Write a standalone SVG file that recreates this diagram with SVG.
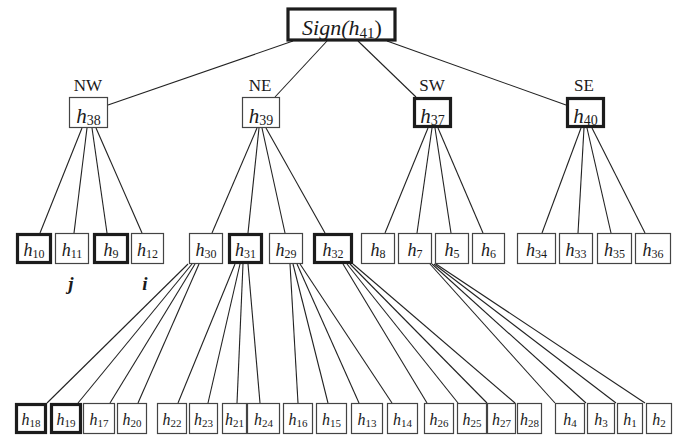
<svg xmlns="http://www.w3.org/2000/svg" width="684" height="439" viewBox="0 0 684 439">
  <style>
    .thin { fill: #fff; stroke: #444; stroke-width: 1.2; }
    .thick { fill: #fff; stroke: #1c1c1c; stroke-width: 3.2; }
    .edge { stroke: #222; stroke-width: 1.1; fill: none; }
    text { font-family: "Liberation Serif", "Times New Roman", serif; fill: #1a1a1a; text-anchor: middle; }
    .it { font-style: italic; }
    .l2 { font-size: 21px; }
    .l2 .s { font-size: 14px; }
    .l3 { font-size: 18px; }
    .l3 .s { font-size: 12px; }
    .l4 { font-size: 16px; }
    .l4 .s { font-size: 11px; }
    .dir { font-size: 17px; }
    .mark { font-size: 19px; font-weight: bold; font-style: italic; }
  </style>

  <!-- connectors -->
  <g id="connectors" class="edge">
    <!-- root to quadrants -->
    <line x1="293" y1="41" x2="108" y2="105"/>
    <line x1="327" y1="41" x2="275" y2="97"/>
    <line x1="358" y1="41" x2="416" y2="97"/>
    <line x1="387" y1="41" x2="566" y2="105"/>
    <!-- h38 -->
    <line x1="82" y1="128" x2="40" y2="233"/>
    <line x1="87" y1="128" x2="74" y2="233"/>
    <line x1="92" y1="128" x2="107" y2="233"/>
    <line x1="96" y1="128" x2="142" y2="233"/>
    <!-- h39 -->
    <line x1="257" y1="128" x2="212" y2="233"/>
    <line x1="259" y1="128" x2="248" y2="233"/>
    <line x1="262" y1="128" x2="285" y2="233"/>
    <line x1="266" y1="128" x2="325" y2="233"/>
    <!-- h37 -->
    <line x1="428" y1="128" x2="385" y2="233"/>
    <line x1="432" y1="128" x2="417" y2="233"/>
    <line x1="435" y1="128" x2="451" y2="233"/>
    <line x1="438" y1="128" x2="483" y2="233"/>
    <!-- h40 -->
    <line x1="581" y1="128" x2="542" y2="233"/>
    <line x1="584" y1="128" x2="578" y2="233"/>
    <line x1="587" y1="128" x2="611" y2="233"/>
    <line x1="592" y1="128" x2="645" y2="233"/>
    <!-- h30 -->
    <line x1="188" y1="264" x2="47" y2="403"/>
    <line x1="192" y1="264" x2="78" y2="403"/>
    <line x1="195" y1="264" x2="110" y2="403"/>
    <line x1="199" y1="264" x2="138" y2="403"/>
    <!-- h31 -->
    <line x1="235" y1="264" x2="178" y2="403"/>
    <line x1="240" y1="264" x2="208" y2="403"/>
    <line x1="243" y1="264" x2="237" y2="403"/>
    <line x1="248" y1="264" x2="260" y2="403"/>
    <!-- h29 -->
    <line x1="290" y1="264" x2="298" y2="403"/>
    <line x1="293" y1="264" x2="328" y2="403"/>
    <line x1="297" y1="264" x2="359" y2="403"/>
    <line x1="300" y1="264" x2="392" y2="403"/>
    <!-- h32 -->
    <line x1="343" y1="264" x2="427" y2="403"/>
    <line x1="347" y1="264" x2="458" y2="403"/>
    <line x1="350" y1="264" x2="487" y2="403"/>
    <line x1="353" y1="264" x2="515" y2="403"/>
    <!-- h7 -->
    <line x1="430" y1="264" x2="555" y2="403"/>
    <line x1="432" y1="264" x2="586" y2="403"/>
    <line x1="434" y1="264" x2="616" y2="403"/>
    <line x1="436" y1="264" x2="645" y2="403"/>
  </g>

  <!-- root -->
  <g id="n41">
    <rect class="thick" x="288" y="9" width="107" height="31" stroke-width="4"/>
    <text x="342" y="35" font-size="22"><tspan class="it">Sign(h</tspan><tspan font-size="15" dy="3">41</tspan><tspan dy="-3">)</tspan></text>
  </g>

  <!-- quadrant nodes -->
  <g id="n38">
    <text class="dir" x="88" y="91">NW</text>
    <rect class="thin" x="69.5" y="97.5" width="38" height="30"/>
    <text class="l2" x="88.5" y="123"><tspan class="it">h</tspan><tspan class="s" dy="2">38</tspan></text>
  </g>
  <g id="n39">
    <text class="dir" x="260" y="91">NE</text>
    <rect class="thin" x="242.5" y="97.5" width="37" height="30"/>
    <text class="l2" x="261" y="123"><tspan class="it">h</tspan><tspan class="s" dy="2">39</tspan></text>
  </g>
  <g id="n37">
    <text class="dir" x="432" y="91">SW</text>
    <rect class="thick" x="414.5" y="98.5" width="36" height="28"/>
    <text class="l2" x="432.5" y="123"><tspan class="it">h</tspan><tspan class="s" dy="2">37</tspan></text>
  </g>
  <g id="n40">
    <text class="dir" x="584" y="91">SE</text>
    <rect class="thick" x="567.5" y="98.5" width="36" height="28"/>
    <text class="l2" x="585.5" y="123"><tspan class="it">h</tspan><tspan class="s" dy="2">40</tspan></text>
  </g>

  <!-- third level -->
  <g id="n10"><rect class="thick" x="17.5" y="234.5" width="33" height="28"/>
    <text class="l3" x="34" y="256"><tspan class="it">h</tspan><tspan class="s" dy="2">10</tspan></text></g>
  <g id="n11"><rect class="thin" x="55.5" y="233.5" width="33" height="30"/>
    <text class="l3" x="72" y="256"><tspan class="it">h</tspan><tspan class="s" dy="2">11</tspan></text></g>
  <g id="n9"><rect class="thick" x="94.5" y="234.5" width="33" height="28"/>
    <text class="l3" x="111" y="256"><tspan class="it">h</tspan><tspan class="s" dy="2">9</tspan></text></g>
  <g id="n12"><rect class="thin" x="131.5" y="233.5" width="32" height="30"/>
    <text class="l3" x="147.5" y="256"><tspan class="it">h</tspan><tspan class="s" dy="2">12</tspan></text></g>
  <g id="n30"><rect class="thin" x="189.5" y="233.5" width="33" height="30"/>
    <text class="l3" x="206" y="256"><tspan class="it">h</tspan><tspan class="s" dy="2">30</tspan></text></g>
  <g id="n31"><rect class="thick" x="229.5" y="234.5" width="32" height="28"/>
    <text class="l3" x="245.5" y="256"><tspan class="it">h</tspan><tspan class="s" dy="2">31</tspan></text></g>
  <g id="n29"><rect class="thin" x="269.5" y="233.5" width="33" height="30"/>
    <text class="l3" x="286" y="256"><tspan class="it">h</tspan><tspan class="s" dy="2">29</tspan></text></g>
  <g id="n32"><rect class="thick" x="314.5" y="234.5" width="37" height="28"/>
    <text class="l3" x="333" y="256"><tspan class="it">h</tspan><tspan class="s" dy="2">32</tspan></text></g>
  <g id="n8"><rect class="thin" x="361.5" y="233.5" width="33" height="30"/>
    <text class="l3" x="378" y="256"><tspan class="it">h</tspan><tspan class="s" dy="2">8</tspan></text></g>
  <g id="n7"><rect class="thin" x="398.5" y="233.5" width="33" height="30"/>
    <text class="l3" x="415" y="256"><tspan class="it">h</tspan><tspan class="s" dy="2">7</tspan></text></g>
  <g id="n5"><rect class="thin" x="435.5" y="233.5" width="33" height="30"/>
    <text class="l3" x="452" y="256"><tspan class="it">h</tspan><tspan class="s" dy="2">5</tspan></text></g>
  <g id="n6"><rect class="thin" x="472.5" y="233.5" width="32" height="30"/>
    <text class="l3" x="488.5" y="256"><tspan class="it">h</tspan><tspan class="s" dy="2">6</tspan></text></g>
  <g id="n34"><rect class="thin" x="517.5" y="233.5" width="38" height="30"/>
    <text class="l3" x="536.5" y="256"><tspan class="it">h</tspan><tspan class="s" dy="2">34</tspan></text></g>
  <g id="n33"><rect class="thin" x="559.5" y="233.5" width="33" height="30"/>
    <text class="l3" x="576" y="256"><tspan class="it">h</tspan><tspan class="s" dy="2">33</tspan></text></g>
  <g id="n35"><rect class="thin" x="597.5" y="233.5" width="34" height="30"/>
    <text class="l3" x="614.5" y="256"><tspan class="it">h</tspan><tspan class="s" dy="2">35</tspan></text></g>
  <g id="n36"><rect class="thin" x="635.5" y="233.5" width="35" height="30"/>
    <text class="l3" x="653" y="256"><tspan class="it">h</tspan><tspan class="s" dy="2">36</tspan></text></g>

  <!-- markers under the NW children -->
  <text class="mark" x="71" y="290">j</text>
  <text class="mark" x="145" y="290">i</text>

  <!-- leaf level -->
  <g id="n18"><rect class="thick" x="16.5" y="404.5" width="29" height="28"/>
    <text class="l4" x="31" y="425"><tspan class="it">h</tspan><tspan class="s" dy="2">18</tspan></text></g>
  <g id="n19"><rect class="thick" x="51.5" y="404.5" width="29" height="28"/>
    <text class="l4" x="66" y="425"><tspan class="it">h</tspan><tspan class="s" dy="2">19</tspan></text></g>
  <g id="n17"><rect class="thin" x="83.5" y="403.5" width="31" height="30"/>
    <text class="l4" x="99" y="425"><tspan class="it">h</tspan><tspan class="s" dy="2">17</tspan></text></g>
  <g id="n20"><rect class="thin" x="117.5" y="403.5" width="29" height="30"/>
    <text class="l4" x="132" y="425"><tspan class="it">h</tspan><tspan class="s" dy="2">20</tspan></text></g>
  <g id="n22"><rect class="thin" x="157.5" y="403.5" width="29" height="30"/>
    <text class="l4" x="172" y="425"><tspan class="it">h</tspan><tspan class="s" dy="2">22</tspan></text></g>
  <g id="n23"><rect class="thin" x="189.5" y="403.5" width="28" height="30"/>
    <text class="l4" x="203.5" y="425"><tspan class="it">h</tspan><tspan class="s" dy="2">23</tspan></text></g>
  <g id="n21"><rect class="thin" x="222.5" y="403.5" width="24" height="30"/>
    <text class="l4" x="234.5" y="425"><tspan class="it">h</tspan><tspan class="s" dy="2">21</tspan></text></g>
  <g id="n24"><rect class="thin" x="247.5" y="403.5" width="32" height="30"/>
    <text class="l4" x="263.5" y="425"><tspan class="it">h</tspan><tspan class="s" dy="2">24</tspan></text></g>
  <g id="n16"><rect class="thin" x="283.5" y="403.5" width="29" height="30"/>
    <text class="l4" x="298" y="425"><tspan class="it">h</tspan><tspan class="s" dy="2">16</tspan></text></g>
  <g id="n15"><rect class="thin" x="316.5" y="403.5" width="30" height="30"/>
    <text class="l4" x="331.5" y="425"><tspan class="it">h</tspan><tspan class="s" dy="2">15</tspan></text></g>
  <g id="n13"><rect class="thin" x="351.5" y="403.5" width="31" height="30"/>
    <text class="l4" x="367" y="425"><tspan class="it">h</tspan><tspan class="s" dy="2">13</tspan></text></g>
  <g id="n14"><rect class="thin" x="387.5" y="403.5" width="30" height="30"/>
    <text class="l4" x="402.5" y="425"><tspan class="it">h</tspan><tspan class="s" dy="2">14</tspan></text></g>
  <g id="n26"><rect class="thin" x="424.5" y="403.5" width="29" height="30"/>
    <text class="l4" x="439" y="425"><tspan class="it">h</tspan><tspan class="s" dy="2">26</tspan></text></g>
  <g id="n25"><rect class="thin" x="457.5" y="403.5" width="29" height="30"/>
    <text class="l4" x="472" y="425"><tspan class="it">h</tspan><tspan class="s" dy="2">25</tspan></text></g>
  <g id="n27"><rect class="thin" x="487.5" y="403.5" width="28" height="30"/>
    <text class="l4" x="501.5" y="425"><tspan class="it">h</tspan><tspan class="s" dy="2">27</tspan></text></g>
  <g id="n28"><rect class="thin" x="517.5" y="403.5" width="24" height="30"/>
    <text class="l4" x="529.5" y="425"><tspan class="it">h</tspan><tspan class="s" dy="2">28</tspan></text></g>
  <g id="n4"><rect class="thin" x="555.5" y="403.5" width="29" height="30"/>
    <text class="l4" x="570" y="425"><tspan class="it">h</tspan><tspan class="s" dy="2">4</tspan></text></g>
  <g id="n3"><rect class="thin" x="587.5" y="403.5" width="27" height="30"/>
    <text class="l4" x="601" y="425"><tspan class="it">h</tspan><tspan class="s" dy="2">3</tspan></text></g>
  <g id="n1"><rect class="thin" x="617.5" y="403.5" width="25" height="30"/>
    <text class="l4" x="630" y="425"><tspan class="it">h</tspan><tspan class="s" dy="2">1</tspan></text></g>
  <g id="n2"><rect class="thin" x="646.5" y="403.5" width="25" height="30"/>
    <text class="l4" x="659" y="425"><tspan class="it">h</tspan><tspan class="s" dy="2">2</tspan></text></g>
</svg>
